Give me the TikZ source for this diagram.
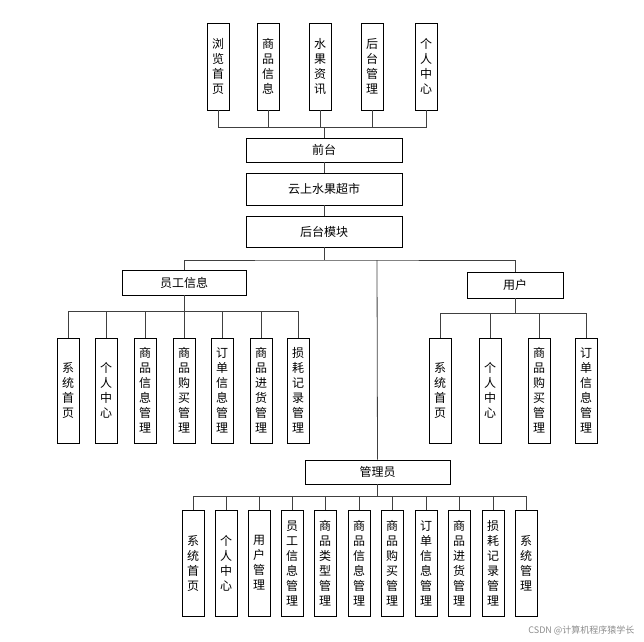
\documentclass[tikz,border=0pt]{standalone}
\usepackage{fontspec}
\setmainfont{Noto Sans CJK SC}
\begin{document}
\begin{tikzpicture}[x=1pt,y=-1pt,
 vbox/.style={draw,line width=0.8pt,minimum width=22pt,inner sep=0pt,align=center,font=\fontsize{12}{15}\selectfont},
 hbox/.style={draw,line width=0.8pt,inner sep=0pt,font=\fontsize{12}{15}\selectfont},
 ln/.style={line width=0.8pt,draw=black!75}]
\useasboundingbox (0,0) rectangle (644,641);
% top
\foreach \x/\t/\n in {218/浏\\览\\首\\页/t1,268/商\\品\\信\\息/t2,320/水\\果\\资\\讯/t3,372/后\\台\\管\\理/t4,426/个\\人\\中\\心/t5}
 \node[vbox,minimum height=87pt] (\n) at (\x,66.5) {\t};
\node[hbox,minimum width=156pt,minimum height=24pt] (qt) at (324,150) {前台};
\node[hbox,minimum width=156pt,minimum height=32pt] (cs) at (324,189) {云上水果超市};
\node[hbox,minimum width=156pt,minimum height=31pt] (ht) at (324,231.5) {后台模块};
\foreach \n in {t1,t2,t3,t4,t5} \draw[ln] (\n.south) |- (324,127);
\draw[ln] (t1.south|-0,127) -- (t5.south|-0,127);
\draw[ln] (324,127) -- (qt.north);
\draw[ln] (qt) -- (cs); \draw[ln] (cs) -- (ht);
\node[hbox,minimum width=124pt,minimum height=25pt] (yg) at (184,282.5) {员工信息};
\node[hbox,minimum width=96pt,minimum height=26pt] (yh) at (515,285) {用户};
\node[hbox,minimum width=145pt,minimum height=24pt] (gl) at (377.5,472) {管理员};
\coordinate (b1) at (324,260);
\draw[ln] (ht.south) -- (b1);
\draw[ln] (yg.north) |- (b1) -| (yh.north);
\draw[ln] (377,260) -- (gl.north);
% employee children
\foreach \x/\t/\n in {68/系\\统\\首\\页/e1,106/个\\人\\中\\心/e2,145/商\\品\\信\\息\\管\\理/e3,184/商\\品\\购\\买\\管\\理/e4,222/订\\单\\信\\息\\管\\理/e5,261/商\\品\\进\\货\\管\\理/e6,298/损\\耗\\记\\录\\管\\理/e7}
 {\node[vbox,minimum height=105pt] (\n) at (\x,390.5) {\t};
  \draw[ln] (\n.north) -- (\x,311);}
\draw[ln] (68,311) -- (298,311);
\draw[ln] (yg.south) -- (184,311);
% user children
\foreach \x/\t/\n in {440/系\\统\\首\\页/u1,490/个\\人\\中\\心/u2,539/商\\品\\购\\买\\管\\理/u3,586/订\\单\\信\\息\\管\\理/u4}
 {\node[vbox,minimum height=105pt] (\n) at (\x,390.5) {\t};
  \draw[ln] (\n.north) -- (\x,313);}
\draw[ln] (440,313) -- (586,313);
\draw[ln] (yh.south) -- (515,313);
% admin children
\foreach \x/\t/\n in {193/系\\统\\首\\页/a1,226/个\\人\\中\\心/a2,259/用\\户\\管\\理/a3,292/员\\工\\信\\息\\管\\理/a4,325/商\\品\\类\\型\\管\\理/a5,359/商\\品\\信\\息\\管\\理/a6,392/商\\品\\购\\买\\管\\理/a7,426/订\\单\\信\\息\\管\\理/a8,459/商\\品\\进\\货\\管\\理/a9,493/损\\耗\\记\\录\\管\\理/a10,526/系\\统\\管\\理/a11}
 {\node[vbox,minimum height=106pt] (\n) at (\x,563) {\t};
  \draw[ln] (\n.north) -- (\x,496);}
\draw[ln] (193,496) -- (526,496);
\draw[ln] (gl.south) -- (377.5,496);
\node[font=\fontsize{9}{10}\selectfont,text=black!45,anchor=east] (wm) at (638,630) {CSDN @计算机程序猿学长};
\end{tikzpicture}
\end{document}
